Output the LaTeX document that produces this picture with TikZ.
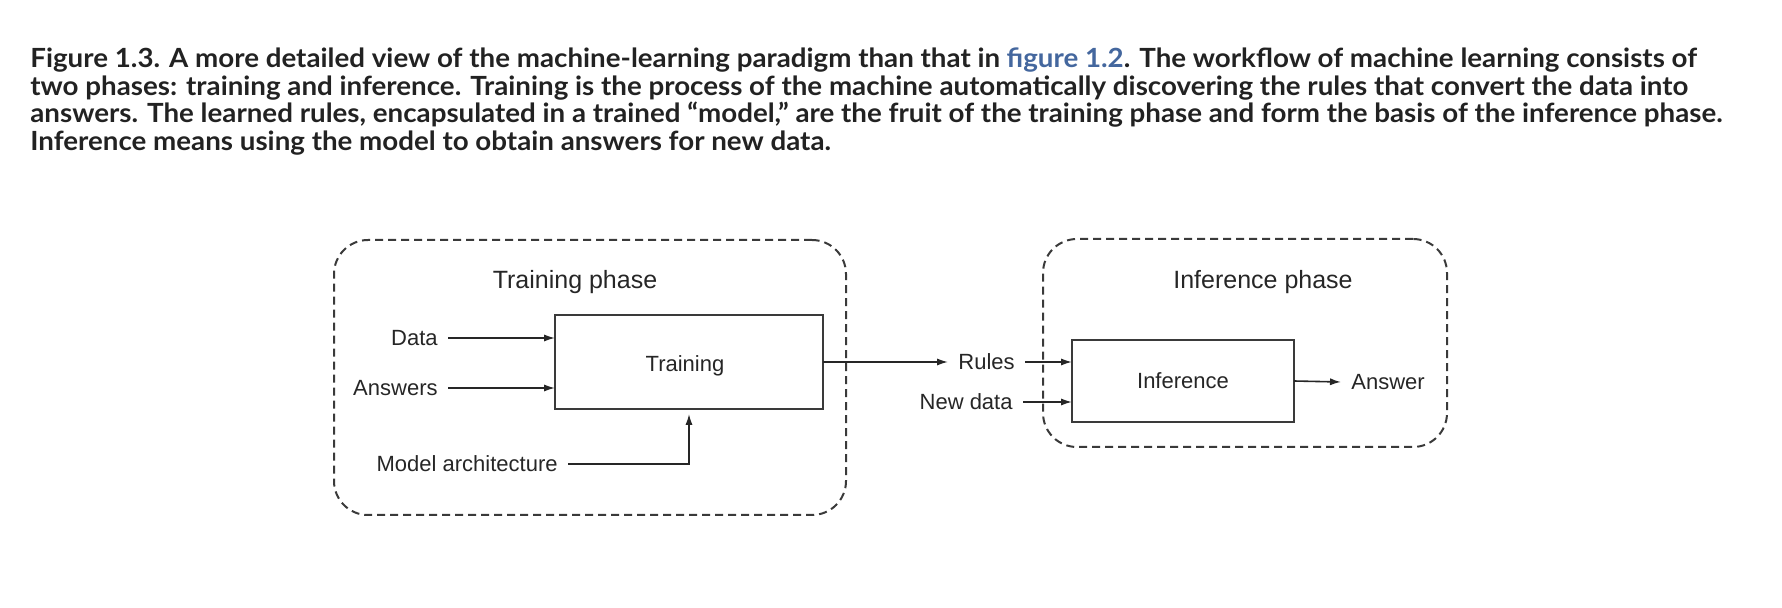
\documentclass[tikz,border=0pt]{standalone}
\usepackage{fontspec}
\setmainfont{Liberation Sans}
\newfontfamily\capfont{Lato}[FakeStretch=1.05]
\usetikzlibrary{arrows.meta}
\definecolor{capcol}{HTML}{222222}
\definecolor{linkcol}{HTML}{44679E}
\definecolor{linecol}{HTML}{3A3A3A}
\begin{document}
\begin{tikzpicture}[x=0.5pt,y=-0.5pt,
  captxt/.style={anchor=base west, inner sep=0, font=\capfont\bfseries\fontsize{13.2}{15}\selectfont, text=capcol},
  lbl/.style={inner xsep=5pt, inner ysep=0pt, font=\fontsize{11}{13}\selectfont, text=black!85},
  intxt/.style={inner sep=0, font=\fontsize{11}{13}\selectfont, text=black!85},
  titletxt/.style={inner sep=0, font=\fontsize{12.5}{15}\selectfont, text=black!85},
  phasebox/.style={draw=linecol, line width=1pt, dash pattern=on 4pt off 2.5pt, rounded corners=17pt, inner sep=0, outer sep=0},
  procbox/.style={draw=linecol, line width=1.1pt, inner sep=0, outer sep=0, font=\fontsize{11}{13}\selectfont, text=black!85},
  arr/.style={draw=black!85, line width=0.8pt, -{Latex[length=5.5pt,width=3.6pt]}},
]
\useasboundingbox (0,0) rectangle (1782,608);
% caption
\node[captxt] (cap1) at (30,68) {Figure 1.3. A more detailed view of the machine-learning paradigm than that in {\color{linkcol}figure 1.2}. The workflow of machine learning consists of};
\node[captxt] (cap2) at (30,95.5) {two phases: training and inference. Training is the process of the machine automatically discovering the rules that convert the data into};
\node[captxt] (cap3) at (30,123) {answers. The learned rules, encapsulated in a trained “model,” are the fruit of the training phase and form the basis of the inference phase.};
\node[captxt] (cap4) at (30,150.5) {Inference means using the model to obtain answers for new data.};
% phase boxes
\node[phasebox, minimum width=256pt, minimum height=137.5pt] (tphase) at (590,377.5) {};
\node[phasebox, minimum width=202pt, minimum height=104pt] (iphase) at (1245,343) {};
\node[titletxt] (ttitle) at (575,282) {Training phase};
\node[titletxt] (ititle) at (1263,282) {Inference phase};
% process boxes
\node[procbox, minimum width=134pt, minimum height=47pt] (train) at (689,362) {};
\node[intxt] (traintxt) at (685,366) {Training};
\node[procbox, minimum width=111pt, minimum height=41pt] (infer) at (1183,381) {Inference};
% labels
\node[lbl, anchor=east] (data) at (448,338) {Data};
\node[lbl, anchor=east] (answers) at (448,388) {Answers};
\node[lbl, anchor=east] (model) at (568,464) {Model architecture};
\node[lbl, anchor=west] (rules) at (948,362) {Rules};
\node[lbl, anchor=east] (newdata) at (1023,402) {New data};
\node[lbl, anchor=west] (answer) at (1341,382) {Answer};
% connectors
\draw[arr] (data.east) -- (data.east -| train.west);
\draw[arr] (answers.east) -- (answers.east -| train.west);
\draw[arr, shorten >=2.5pt] (model.east) -| (train.south);
\draw[arr] (train.east) -- (rules.west);
\draw[arr] (rules.east) -- (rules.east -| infer.west);
\draw[arr] (newdata.east) -- (newdata.east -| infer.west);
\draw[arr] (infer.east) -- (answer.west);
\end{tikzpicture}
\end{document}
